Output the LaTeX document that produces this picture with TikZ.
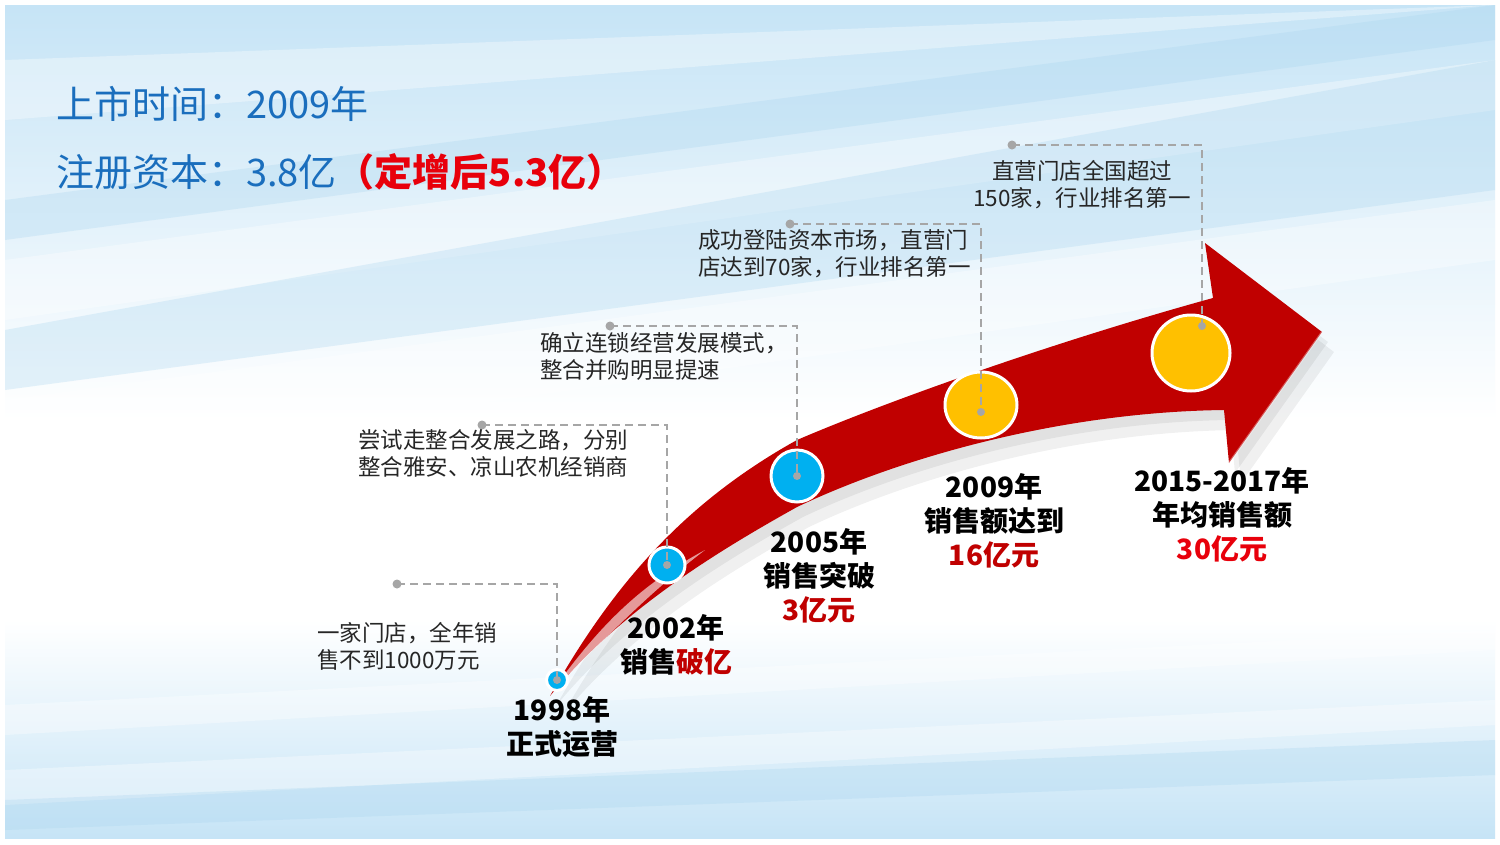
\documentclass[tikz,border=0pt]{standalone}
\usepackage{fontspec}
\setmainfont{Noto Sans CJK SC}
\usetikzlibrary{positioning,shapes.geometric}
\definecolor{arrowred}{HTML}{C00000}
\definecolor{labelred}{HTML}{C00000}
\definecolor{brightred}{HTML}{E8000B}
\definecolor{titleblue}{HTML}{1A6EBD}
\definecolor{discblue}{HTML}{00B0F0}
\definecolor{discgold}{HTML}{FFC000}
\definecolor{conngray}{HTML}{A6A6A6}
\definecolor{bgblue}{HTML}{C6E4F6}
\definecolor{bgdeep}{HTML}{A9D5EF}
\definecolor{desctext}{HTML}{262626}

\newcommand{\bigarrow}{(550,696) .. controls (610,590) and (680,505) .. (797,440)
 .. controls (890,400) and (1060,340) .. (1213,298) -- (1205,243) -- (1322,332)
 -- (1229,463) -- (1224,410) .. controls (1060,412) and (900,458) .. (797,507)
 .. controls (720,550) and (620,610) .. (550,696) -- cycle}
\newcommand{\streak}[4]{
\fill[white, opacity=0.35]
(5, #1) -- (1495, #2) -- (1495, #3) -- (5, #4) -- cycle;
}
\newcommand{\bluestreak}[4]{
\fill[bgdeep, opacity=0.3]
(5, #1) -- (1495, #2) -- (1495, #3) -- (5, #4) -- cycle;
}

\tikzset{
  desc/.style={font=\fontsize{22.5}{27}\selectfont, text=desctext, align=left, inner sep=0},
  mlabel/.style={font=\fontsize{28}{34}\selectfont\bfseries, align=center, inner sep=0},
  title/.style={font=\fontsize{38}{44}\selectfont, text=titleblue, inner sep=0, anchor=west},
  bluedisc/.style={circle, fill=discblue, draw=white, line width=3, inner sep=0},
  golddisc/.style={ellipse, fill=discgold, draw=white, line width=3, inner sep=0},
  conn/.style={draw=conngray, line width=2, dash pattern=on 8 off 5}
}

\begin{document}
\begin{tikzpicture}[x=1pt, y=-1pt]
\useasboundingbox (0,0) rectangle (1500,844);
\fill[white] (0,0) rectangle (1500,844);
\shade[top color=bgblue, bottom color=white] (5,5) rectangle (1495,420);
\shade[top color=white, bottom color=bgblue] (5,620) rectangle (1495,838);

\streak{120}{5}{5}{60}
\streak{260}{60}{110}{320}
\bluestreak{330}{60}{190}{390}
\bluestreak{200}{5}{40}{240}
\streak{400}{200}{260}{470}
\streak{770}{700}{725}{805}
\streak{705}{630}{650}{735}
\bluestreak{800}{740}{775}{830}

\fill[black, opacity=0.06, shift={(12,20)}] \bigarrow;
\fill[black, opacity=0.06, shift={(6,10)}] \bigarrow;
\fill[arrowred] \bigarrow;
\fill[white, opacity=0.6] (553,690) .. controls (600,625) and (640,585) .. (705,550)
 .. controls (650,592) and (612,632) .. (553,690) -- cycle;
\draw[white, opacity=0.35, line width=2] (1322,332) -- (1229,463);

\node[title] (when) at (56,104) {上市时间：2009年};
\node[title] (capital) at (56,172) {注册资本：3.8亿\textcolor{brightred}{\bfseries（定增后5.3亿）}};

\node[bluedisc, minimum size=21] (c1) at (557,680) {};
\node[bluedisc, minimum size=36] (c2) at (667,565) {};
\node[bluedisc, minimum size=52] (c3) at (797,476) {};
\node[golddisc, minimum width=72, minimum height=66] (c4) at (981,405) {};
\node[golddisc, minimum width=78, minimum height=76] (c5) at (1191,353) {};

\coordinate (d1) at (397,584);
\coordinate (d2) at (482,425);
\coordinate (d3) at (610,326);
\coordinate (d4) at (790,224);
\coordinate (d5) at (1012,145);
\coordinate (e4) at (981,412);
\coordinate (e5) at (1202,326);

\draw[conn] (d1) -| (c1.center);
\draw[conn] (d2) -| (c2.center);
\draw[conn] (d3) -| (c3.center);
\draw[conn] (d4) -| (e4);
\draw[conn] (d5) -| (e5);

\foreach \d in {d1,d2,d3,d4,d5} \fill[conngray] (\d) circle (4.5);
\fill[conngray] (c1.center) circle (4);
\fill[conngray] (c2.center) circle (4);
\fill[conngray] (c3.center) circle (4);
\fill[conngray] (e4) circle (4);
\fill[conngray] (e5) circle (4);

\node[desc, anchor=west] (t1) at (317,646) {一家门店，全年销\\售不到1000万元};
\node[desc, anchor=west] (t2) at (358,453) {尝试走整合发展之路，分别\\整合雅安、凉山农机经销商};
\node[desc, anchor=west] (t3) at (540,356) {确立连锁经营发展模式，\\整合并购明显提速};
\node[desc, anchor=west] (t4) at (698,254) {成功登陆资本市场，直营门\\店达到70家，行业排名第一};
\node[desc, align=center] (t5) at (1082,185) {直营门店全国超过\\150家，行业排名第一};

\node[mlabel] (l1) at (562,727) {1998年\\正式运营};
\node[mlabel] (l2) at (676,645) {2002年\\销售\textcolor{labelred}{破亿}};
\node[mlabel] (l3) at (819,576) {2005年\\销售突破\\\textcolor{labelred}{3亿元}};
\node[mlabel] (l4) at (994,521) {2009年\\销售额达到\\\textcolor{labelred}{16亿元}};
\node[mlabel] (l5) at (1222,515) {2015-2017年\\年均销售额\\\textcolor{brightred}{30亿元}};

\end{tikzpicture}
\end{document}
